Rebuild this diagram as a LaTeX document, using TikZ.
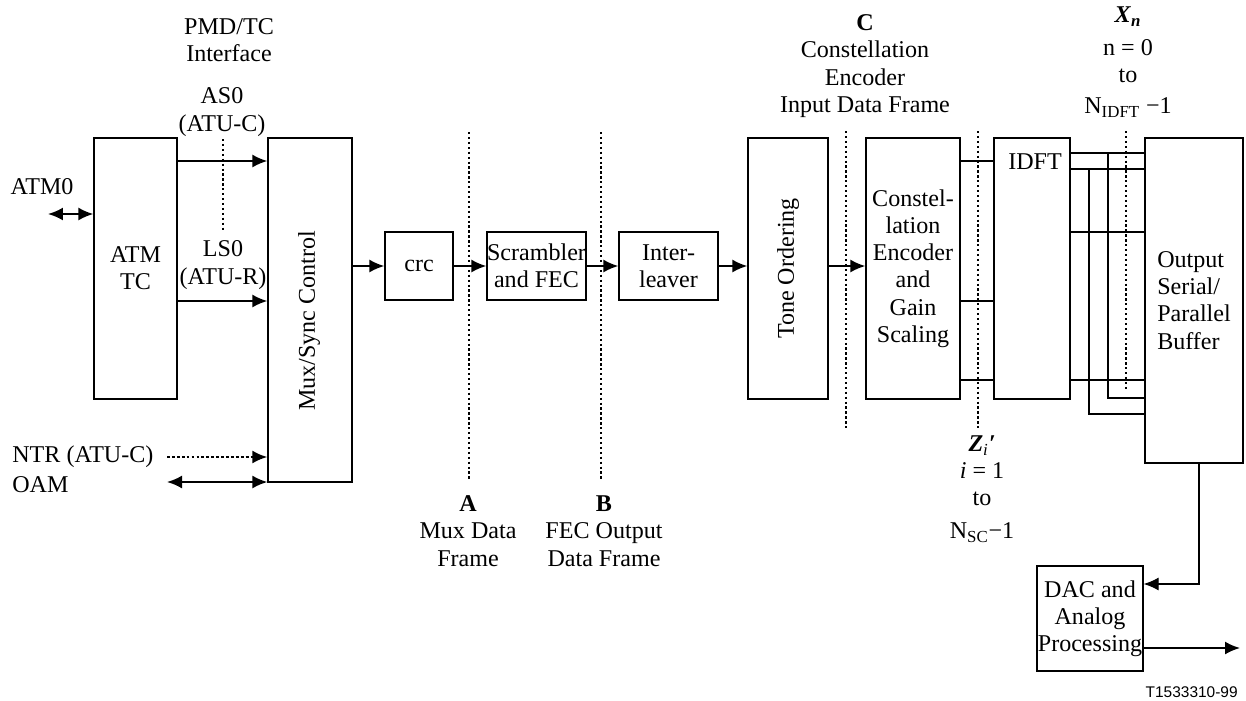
\documentclass[tikz,border=0pt]{standalone}
\usepackage{fontspec}
\setmainfont{Liberation Serif}
\setsansfont{Liberation Sans}
\usepackage{graphicx}
\usetikzlibrary{arrows.meta}

\begin{document}
\begin{tikzpicture}[x=0.02cm, y=-0.02cm,
    font=\fontsize{13.7}{15.5}\selectfont,
    blk/.style={draw, line width=0.7pt, inner sep=0pt, align=center},
    lbl/.style={align=center, inner sep=0pt},
    tip/.style={-{Latex[length=0.3cm, width=0.26cm]}},
    arr/.style={line width=1.1pt, tip},
    darr/.style={line width=1.1pt, {Latex[length=0.3cm, width=0.26cm]}-{Latex[length=0.3cm, width=0.26cm]}},
    wire/.style={line width=1.1pt},
    dots/.style={line width=1.4pt, dash pattern=on 1.3pt off 1.5pt}]
    \useasboundingbox (0,0) rectangle (1246,700);

    % blocks
    \node[blk, minimum width=1.66cm, minimum height=5.22cm] (atmtc) at (135.5,268.5) {ATM\\TC};
    \node[blk, minimum width=1.68cm, minimum height=6.88cm] (mux) at (310,310) {};
    \node[rotate=90, inner sep=0pt] (muxtxt) at (309,321) {Mux/Sync Control};
    \node[blk, minimum width=1.36cm, minimum height=1.36cm] (crc) at (419,266) {crc};
    \node[blk, minimum width=1.98cm, minimum height=1.36cm] (scr) at (536.5,266) {Scrambler\\and FEC};
    \node[blk, minimum width=1.98cm, minimum height=1.36cm] (intl) at (668.5,266) {Inter-\\leaver};
    \node[blk, minimum width=1.6cm, minimum height=5.22cm] (tone) at (788,268.5) {\rotatebox{90}{Tone Ordering}};
    \node[blk, minimum width=1.88cm, minimum height=5.22cm] (ce) at (913,268.5) {Constel-\\lation\\Encoder\\and\\Gain\\Scaling};
    \node[blk, minimum width=1.52cm, minimum height=5.22cm,
          label={[anchor=north, yshift=-0.32cm, xshift=0.06cm, inner sep=0pt]north:IDFT}] (idft) at (1032,268.5) {};
    \node[blk, align=left, minimum width=1.96cm, minimum height=6.5cm] (out) at (1194,300.5) {Output\\Serial/\\Parallel\\Buffer};
    \node[blk, minimum width=2.12cm, minimum height=2.1cm] (dac) at (1090,618.5) {DAC and\\Analog\\Processing};

    % free ends and levels
    \coordinate (atm0end) at (48,214);
    \coordinate (ntrend) at (167,457);
    \coordinate (oamend) at (167,482);
    \coordinate (bend) at (1199,584);
    \coordinate (lineout) at (1240,648);

    % left side
    \draw[darr] (atm0end) -- (atmtc.west |- atm0end);
    \draw[arr] (atmtc.east |- 0,161) -- (mux.west |- 0,161);
    \draw[arr] (atmtc.east |- 0,301) -- (mux.west |- 0,301);
    \draw[line width=1.3pt, dash pattern=on 1.6pt off 1.2pt, tip] (ntrend) -- (mux.west |- ntrend);
    \draw[darr] (oamend) -- (mux.west |- oamend);

    % main chain
    \draw[arr] (mux.east |- crc.west) -- (crc.west);
    \draw[arr] (crc) -- (scr);
    \draw[arr] (scr) -- (intl);
    \draw[arr] (intl.east) -- (tone.west |- intl.east);
    \draw[arr] (tone.east |- intl.east) -- (ce.west |- intl.east);
    \foreach \y in {161,301,380}
        \draw[wire] (ce.east |- 0,\y) -- (idft.west |- 0,\y);
    \foreach \y in {153,169,232,380}
        \draw[wire] (idft.east |- 0,\y) -- (out.west |- 0,\y);
    \draw[wire] (1108,153) -- (1108,398) -- (out.west |- 0,398);
    \draw[wire] (1089,169) -- (1089,414) -- (out.west |- 0,414);
    \draw[line width=0.7pt, tip] (out.south -| bend) -- (bend) -- (dac.east |- bend);
    \draw[arr] (dac.east |- lineout) -- (lineout);

    % reference points
    \draw[dots] (223,139) -- (223,232);
    \draw[dots] (469,132) -- (469,481);
    \draw[dots] (601,132) -- (601,481);
    \draw[dots] (846,131) -- (846,431);
    \draw[dots] (978,131) -- (978,431);
    \draw[dots] (1126,131) -- (1126,389);

    % labels
    \node[lbl] (pmd) at (229,40) {PMD/TC\\Interface};
    \node[lbl] (as0) at (222,112) {AS0\\(ATU-C)};
    \node[lbl] (ls0) at (223,265) {LS0\\(ATU-R)};
    \node[lbl] (atm0) at (42,187) {ATM0};
    \node[lbl, anchor=west] (ntr) at (12,457) {NTR (ATU-C)};
    \node[lbl, anchor=west] (oam) at (12,485) {OAM};
    \node[lbl] (ptA) at (468,531) {\textbf{A}\\Mux Data\\Frame};
    \node[lbl] (ptB) at (604,531) {\textbf{B}\\FEC Output\\Data Frame};
    \node[lbl] (ptC) at (865,66) {\textbf{C}\\Constellation\\Encoder\\Input Data Frame};
    \node[lbl] (ptX) at (1128,62) {\textbf{\textit{X}}\textsubscript{\textbf{\textit{n}}}\\[3pt]n = 0\\to\\[2pt]N\textsubscript{IDFT} −1};
    \node[lbl] (ptZ) at (982,489) {\textbf{\textit{Z}}\textsubscript{\textit{i}}\textbf{\textit{′}}\\\textit{i} = 1\\to\\[3pt]N\textsubscript{SC}−1};
    \node[lbl, anchor=east, font=\sffamily\fontsize{8.8}{10}\selectfont] (figid) at (1238,692) {T1533310-99};
\end{tikzpicture}
\end{document}
